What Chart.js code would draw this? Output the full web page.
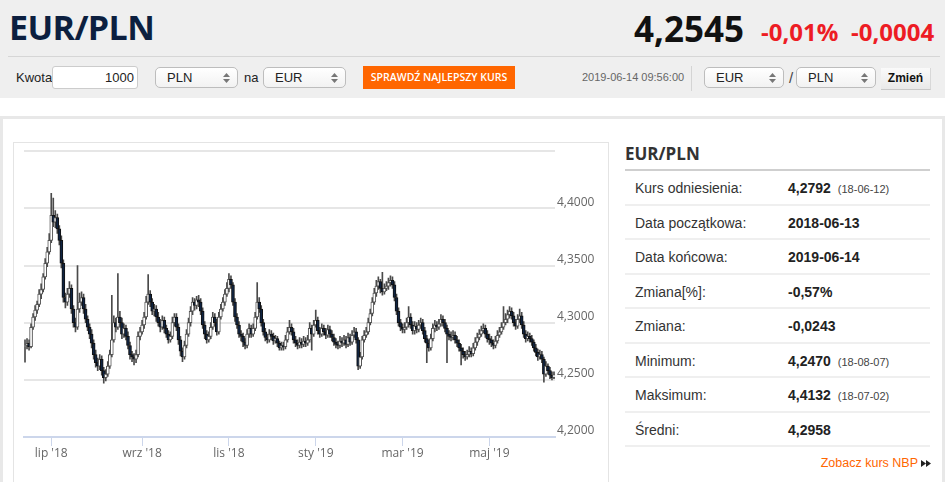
<!DOCTYPE html>
<html lang="pl"><head><meta charset="utf-8">
<script src="https://cdn.jsdelivr.net/npm/chart.js@4.4.1/dist/chart.umd.min.js"></script>
<style>
*{box-sizing:border-box;margin:0;padding:0}
html,body{width:945px;height:482px;overflow:hidden;background:#fff;font-family:"Liberation Sans",Arial,sans-serif;color:#333}
.a{position:absolute;white-space:nowrap}
.sel{position:absolute;height:21px;border:1px solid #bdbdbd;border-radius:5px;background:linear-gradient(#fff,#f2f2f2);font-size:13px;line-height:19px;padding-left:11px;color:#222}
.sel svg{position:absolute;right:7px;top:5px}
.row{position:absolute;left:625px;width:305px;height:34.5px;border-bottom:2px solid #efefef;font-size:14px}
.row .k{position:absolute;left:10px;top:9px;color:#333}
.row .v{position:absolute;left:163px;top:9px;font-weight:bold;color:#222}
.row .d{font-weight:normal;font-size:11px;color:#444;margin-left:7px}
</style></head><body>
<div class="a" style="left:0;top:0;width:945px;height:98px;background:#efefef"></div>
<div class="a" style="left:8px;top:56px;width:932px;height:1px;background:#d6d6d6"></div>
<div class="a" style="left:9px;top:10px;font:700 34px/1 'Open Sans';color:#0c1f3f;letter-spacing:-0.6px">EUR/PLN</div>
<div class="a" style="left:634px;top:11px;font:700 35px/1 'Open Sans';color:#111">4,2545</div>
<div class="a" style="left:761px;top:20px;font:700 24px/1 'Open Sans';color:#ed1c24">-0,01%</div>
<div class="a" style="left:851px;top:20px;font:700 24px/1 'Open Sans';color:#ed1c24">-0,0004</div>

<div class="a" style="left:16px;top:70px;font-size:13px;color:#222">Kwota</div>
<div class="a" style="left:52px;top:66px;width:86px;height:23px;background:#fff;border:1px solid #ccc;border-radius:3px;font-size:13px;line-height:21px;text-align:right;padding-right:3px;color:#222">1000</div>
<div class="sel" style="left:155px;top:67px;width:83px">PLN<svg width="7" height="10"><path d="M0 4L3.5 0L7 4Z M0 6L3.5 10L7 6Z" fill="#777"/></svg></div>
<div class="a" style="left:244px;top:70px;font-size:13px;color:#222">na</div>
<div class="sel" style="left:263px;top:67px;width:83px">EUR<svg width="7" height="10"><path d="M0 4L3.5 0L7 4Z M0 6L3.5 10L7 6Z" fill="#777"/></svg></div>
<div class="a" style="left:363px;top:66px;width:152px;height:23px;background:#ff6600;color:#fff;font:600 10.5px/23px 'Open Sans';text-align:center">SPRAWDŹ NAJLEPSZY KURS</div>

<div class="a" style="left:582px;top:71px;font-size:11px;color:#666">2019-06-14 09:56:00</div>
<div class="a" style="left:691px;top:66px;width:1px;height:25px;background:#d4d4d4"></div>
<div class="sel" style="left:704px;top:67px;width:80px">EUR<svg width="7" height="10"><path d="M0 4L3.5 0L7 4Z M0 6L3.5 10L7 6Z" fill="#777"/></svg></div>
<div class="a" style="left:789px;top:69px;font-size:15px;color:#444">/</div>
<div class="sel" style="left:796px;top:67px;width:80px">PLN<svg width="7" height="10"><path d="M0 4L3.5 0L7 4Z M0 6L3.5 10L7 6Z" fill="#777"/></svg></div>
<div class="a" style="left:881px;top:68px;width:50px;height:22px;background:linear-gradient(#fafafa,#e9e9e9);border-bottom:1px solid #c8c8c8;border-right:1px solid #d8d8d8;font:bold 12px/21px 'Liberation Sans',Arial;text-align:center;color:#111">Zmień</div>

<div class="a" style="left:0;top:116px;width:945px;height:3px;background:#e8e8e8"></div>
<div class="a" style="left:0;top:116px;width:3px;height:370px;background:#e8e8e8"></div>
<div class="a" style="left:942px;top:116px;width:3px;height:370px;background:#e8e8e8"></div>
<div class="a" style="left:13px;top:142px;width:596px;height:350px;border:1px solid #e4e4e4"></div>

<div class="a" style="left:14px;top:142px;width:594px;height:333px"><canvas id="c"></canvas></div>

<div class="a" style="left:625px;top:145px;font:700 17px/1 'Open Sans';color:#333">EUR/PLN</div>
<div class="a" style="left:625px;top:169px;width:305px;height:2px;background:#cfcfcf"></div>
<div class="row" style="top:171px"><span class="k">Kurs odniesienia:</span><span class="v">4,2792<span class="d">(18-06-12)</span></span></div>
<div class="row" style="top:205.5px"><span class="k">Data początkowa:</span><span class="v">2018-06-13</span></div>
<div class="row" style="top:240px"><span class="k">Data końcowa:</span><span class="v">2019-06-14</span></div>
<div class="row" style="top:274.5px"><span class="k">Zmiana[%]:</span><span class="v">-0,57%</span></div>
<div class="row" style="top:309px"><span class="k">Zmiana:</span><span class="v">-0,0243</span></div>
<div class="row" style="top:343.5px"><span class="k">Minimum:</span><span class="v">4,2470<span class="d">(18-08-07)</span></span></div>
<div class="row" style="top:378px"><span class="k">Maksimum:</span><span class="v">4,4132<span class="d">(18-07-02)</span></span></div>
<div class="row" style="top:412.5px"><span class="k">Średni:</span><span class="v">4,2958</span></div>
<div class="a" style="right:27px;top:456px;font-size:12.5px;color:#ff6600">Zobacz kurs NBP</div>
<svg class="a" style="left:921px;top:460px" width="10" height="7"><path d="M0 0L5 3.5L0 7Z M5 0L10 3.5L5 7Z" fill="#222"/></svg>

<script>
const START_DATE = '2018-06-13';
const END_DATE = '2019-06-14';
const MONTH_TICKS = {'2018-07':"lip '18",'2018-09':"wrz '18",'2018-11':"lis '18",'2019-01':"sty '19",'2019-03':"mar '19",'2019-05':"maj '19"};
const Y_MIN = 4.20, Y_MAX = 4.45, Y_STEP = 0.05;

const OPEN = [
4.2792,4.2800,4.2820,4.2790,4.2960,4.3050,4.3110,4.3160,4.3250,4.3290,
4.3400,4.3520,4.3620,4.3720,4.3940,4.3880,4.3920,4.3820,4.3720,4.3520,
4.3220,4.3180,4.3250,4.3300,4.3120,4.3000,4.2960,4.3120,4.3180,4.3220,
4.3120,4.3030,4.2960,4.2900,4.2820,4.2720,4.2650,4.2620,4.2680,4.2580,
4.2520,4.2550,4.2620,4.2720,4.2850,4.3000,4.2960,4.3050,4.3000,4.2900,
4.2950,4.2880,4.2800,4.2720,4.2700,4.2680,4.2720,4.2880,4.2920,4.2980,
4.3050,4.3180,4.3250,4.3180,4.3100,4.3120,4.3050,4.3000,4.2960,4.3020,
4.2950,4.2900,4.2850,4.2880,4.3000,4.3050,4.2960,4.2850,4.2750,4.2700,
4.2800,4.2900,4.3000,4.3100,4.3180,4.3150,4.3200,4.3180,4.3100,4.2980,
4.2900,4.2850,4.2880,4.2960,4.3050,4.3000,4.2920,4.3050,4.3120,4.3180,
4.3250,4.3300,4.3380,4.3330,4.3180,4.3050,4.2980,4.2900,4.2880,4.2830,
4.2800,4.2900,4.2950,4.2900,4.2950,4.3050,4.3180,4.3120,4.3000,4.2920,
4.2870,4.2850,4.2900,4.2880,4.2840,4.2860,4.2820,4.2780,4.2800,4.2790,
4.2850,4.2920,4.2960,4.2920,4.2850,4.2820,4.2800,4.2830,4.2810,4.2840,
4.2820,4.2850,4.2950,4.2900,4.2980,4.3020,4.2930,4.2900,4.2950,4.2920,
4.2890,4.2940,4.2900,4.2870,4.2830,4.2810,4.2800,4.2840,4.2820,4.2850,
4.2810,4.2870,4.2830,4.2890,4.2920,4.2850,4.2620,4.2700,4.2850,4.2890,
4.2920,4.3000,4.3080,4.3180,4.3260,4.3320,4.3360,4.3300,4.3270,4.3300,
4.3320,4.3350,4.3370,4.3330,4.3220,4.3100,4.3000,4.2960,4.2940,4.2960,
4.3000,4.3050,4.2980,4.2930,4.2970,4.2940,4.2980,4.3000,4.2930,4.2860,
4.2820,4.2780,4.2860,4.2950,4.2980,4.2960,4.2990,4.3030,4.3000,4.2950,
4.2900,4.2880,4.2870,4.2890,4.2850,4.2820,4.2780,4.2750,4.2720,4.2700,
4.2720,4.2750,4.2730,4.2780,4.2830,4.2870,4.2900,4.2930,4.2950,4.2900,
4.2860,4.2850,4.2820,4.2800,4.2840,4.2890,4.2920,4.2960,4.3000,4.3030,
4.3070,4.3100,4.3060,4.3000,4.2970,4.3030,4.3060,4.2980,4.2900,4.2860,
4.2880,4.2860,4.2830,4.2780,4.2740,4.2700,4.2720,4.2680,4.2550,4.2620,
4.2580,4.2540,4.2520];

const HIGH = [
4.2850,4.2860,4.2850,4.2990,4.3080,4.3150,4.3190,4.3290,4.3340,4.3430,
4.3560,4.3660,4.3780,4.4132,4.4090,4.3980,4.3950,4.3850,4.3760,4.3550,
4.3260,4.3300,4.3360,4.3330,4.3150,4.3040,4.3500,4.3260,4.3270,4.3250,
4.3160,4.3060,4.2990,4.2940,4.2850,4.2760,4.2690,4.2720,4.2710,4.2610,
4.2590,4.2660,4.2760,4.3240,4.3060,4.3040,4.3430,4.3100,4.3040,4.2990,
4.2980,4.2920,4.2830,4.2750,4.2730,4.2760,4.2920,4.2960,4.3020,4.3090,
4.3230,4.3420,4.3280,4.3210,4.3160,4.3150,4.3090,4.3030,4.3060,4.3050,
4.2980,4.2930,4.2920,4.3050,4.3080,4.3080,4.2990,4.2880,4.2780,4.2840,
4.2940,4.3040,4.3140,4.3220,4.3210,4.3230,4.3240,4.3210,4.3130,4.3010,
4.2930,4.2920,4.3000,4.3090,4.3080,4.3030,4.3090,4.3160,4.3220,4.3290,
4.3350,4.3430,4.3410,4.3350,4.3210,4.3080,4.3010,4.2930,4.2910,4.2860,
4.2940,4.2990,4.2980,4.2990,4.3090,4.3350,4.3220,4.3150,4.3030,4.2950,
4.2900,4.2940,4.2930,4.2910,4.2890,4.2880,4.2840,4.2830,4.2830,4.2890,
4.2960,4.3020,4.2990,4.2950,4.2880,4.2850,4.2870,4.2860,4.2880,4.2870,
4.2890,4.3000,4.2980,4.3020,4.3110,4.3050,4.2960,4.2990,4.2980,4.2950,
4.2980,4.2970,4.2930,4.2900,4.2860,4.2840,4.2880,4.2870,4.2890,4.2880,
4.2910,4.2900,4.2930,4.2960,4.2950,4.2870,4.2740,4.2880,4.2930,4.2960,
4.3040,4.3120,4.3220,4.3300,4.3370,4.3400,4.3380,4.3440,4.3340,4.3360,
4.3390,4.3410,4.3400,4.3360,4.3250,4.3130,4.3030,4.2990,4.3000,4.3040,
4.3140,4.3080,4.3010,4.3010,4.3000,4.3020,4.3040,4.3030,4.2960,4.2890,
4.2850,4.2900,4.2990,4.3020,4.3010,4.3030,4.3070,4.3060,4.3030,4.2980,
4.2930,4.2920,4.2930,4.2920,4.2880,4.2850,4.2810,4.2780,4.2750,4.2760,
4.2790,4.2780,4.2820,4.2870,4.2910,4.2940,4.2970,4.2990,4.2980,4.2930,
4.2900,4.2880,4.2850,4.2880,4.2930,4.2960,4.3000,4.3140,4.3080,4.3110,
4.3140,4.3130,4.3090,4.3030,4.3070,4.3120,4.3090,4.3010,4.2930,4.2920,
4.2910,4.2890,4.2850,4.2810,4.2770,4.2760,4.2750,4.2700,4.2660,4.2640,
4.2610,4.2570,4.2570];

const LOW = [
4.2655,4.2770,4.2760,4.2780,4.2940,4.3020,4.3080,4.3140,4.3210,4.3270,
4.3380,4.3490,4.3600,4.3700,4.3840,4.3830,4.3780,4.3680,4.3480,4.3180,
4.3130,4.3150,4.3220,4.3080,4.2960,4.2920,4.2940,4.3090,4.3150,4.3080,
4.3000,4.2930,4.2860,4.2780,4.2680,4.2610,4.2580,4.2590,4.2540,4.2470,
4.2490,4.2530,4.2600,4.2700,4.2830,4.2920,4.2940,4.2960,4.2860,4.2870,
4.2850,4.2770,4.2680,4.2660,4.2630,4.2650,4.2700,4.2850,4.2900,4.2950,
4.3030,4.3160,4.3140,4.3070,4.3060,4.3010,4.2970,4.2920,4.2940,4.2910,
4.2870,4.2820,4.2830,4.2860,4.2970,4.2930,4.2810,4.2710,4.2660,4.2680,
4.2780,4.2880,4.2970,4.3070,4.3110,4.3120,4.3140,4.3070,4.2950,4.2860,
4.2820,4.2830,4.2860,4.2940,4.2970,4.2890,4.2900,4.3030,4.3100,4.3150,
4.3230,4.3270,4.3300,4.3150,4.3010,4.2950,4.2870,4.2840,4.2790,4.2770,
4.2780,4.2870,4.2870,4.2880,4.2930,4.3030,4.3090,4.2970,4.2890,4.2840,
4.2820,4.2830,4.2850,4.2810,4.2820,4.2790,4.2760,4.2760,4.2760,4.2770,
4.2830,4.2900,4.2890,4.2820,4.2790,4.2770,4.2780,4.2780,4.2790,4.2790,
4.2800,4.2830,4.2760,4.2880,4.2960,4.2900,4.2870,4.2880,4.2890,4.2860,
4.2870,4.2870,4.2840,4.2800,4.2780,4.2770,4.2780,4.2790,4.2800,4.2780,
4.2790,4.2800,4.2810,4.2870,4.2820,4.2590,4.2600,4.2680,4.2830,4.2870,
4.2900,4.2980,4.3060,4.3160,4.3230,4.3290,4.3260,4.3240,4.3250,4.3280,
4.3290,4.3320,4.3300,4.3190,4.3070,4.2970,4.2930,4.2910,4.2910,4.2940,
4.2960,4.2950,4.2900,4.2900,4.2910,4.2920,4.2950,4.2900,4.2830,4.2650,
4.2750,4.2760,4.2840,4.2920,4.2930,4.2940,4.2970,4.2970,4.2920,4.2650,
4.2850,4.2840,4.2850,4.2820,4.2790,4.2750,4.2630,4.2690,4.2670,4.2680,
4.2700,4.2700,4.2710,4.2760,4.2800,4.2850,4.2880,4.2910,4.2870,4.2830,
4.2810,4.2790,4.2770,4.2780,4.2820,4.2870,4.2900,4.2940,4.2980,4.3000,
4.3040,4.3030,4.2970,4.2940,4.2950,4.3000,4.2950,4.2870,4.2830,4.2840,
4.2830,4.2800,4.2750,4.2710,4.2670,4.2680,4.2650,4.2480,4.2530,4.2550,
4.2510,4.2500,4.2510];

const CLOSE = [
4.2800,4.2820,4.2790,4.2960,4.3050,4.3110,4.3160,4.3250,4.3290,4.3400,
4.3520,4.3620,4.3720,4.3940,4.3880,4.3920,4.3820,4.3720,4.3520,4.3220,
4.3180,4.3250,4.3300,4.3120,4.3000,4.2960,4.3120,4.3180,4.3220,4.3120,
4.3030,4.2960,4.2900,4.2820,4.2720,4.2650,4.2620,4.2680,4.2580,4.2520,
4.2550,4.2620,4.2720,4.2850,4.3000,4.2960,4.3050,4.3000,4.2900,4.2950,
4.2880,4.2800,4.2720,4.2700,4.2680,4.2720,4.2880,4.2920,4.2980,4.3050,
4.3180,4.3250,4.3180,4.3100,4.3120,4.3050,4.3000,4.2960,4.3020,4.2950,
4.2900,4.2850,4.2880,4.3000,4.3050,4.2960,4.2850,4.2750,4.2700,4.2800,
4.2900,4.3000,4.3100,4.3180,4.3150,4.3200,4.3180,4.3100,4.2980,4.2900,
4.2850,4.2880,4.2960,4.3050,4.3000,4.2920,4.3050,4.3120,4.3180,4.3250,
4.3300,4.3380,4.3330,4.3180,4.3050,4.2980,4.2900,4.2880,4.2830,4.2800,
4.2900,4.2950,4.2900,4.2950,4.3050,4.3180,4.3120,4.3000,4.2920,4.2870,
4.2850,4.2900,4.2880,4.2840,4.2860,4.2820,4.2780,4.2800,4.2790,4.2850,
4.2920,4.2960,4.2920,4.2850,4.2820,4.2800,4.2830,4.2810,4.2840,4.2820,
4.2850,4.2950,4.2900,4.2980,4.3020,4.2930,4.2900,4.2950,4.2920,4.2890,
4.2940,4.2900,4.2870,4.2830,4.2810,4.2800,4.2840,4.2820,4.2850,4.2810,
4.2870,4.2830,4.2890,4.2920,4.2850,4.2620,4.2700,4.2850,4.2890,4.2920,
4.3000,4.3080,4.3180,4.3260,4.3320,4.3360,4.3300,4.3270,4.3300,4.3320,
4.3350,4.3370,4.3330,4.3220,4.3100,4.3000,4.2960,4.2940,4.2960,4.3000,
4.3050,4.2980,4.2930,4.2970,4.2940,4.2980,4.3000,4.2930,4.2860,4.2820,
4.2780,4.2860,4.2950,4.2980,4.2960,4.2990,4.3030,4.3000,4.2950,4.2900,
4.2880,4.2870,4.2890,4.2850,4.2820,4.2780,4.2750,4.2720,4.2700,4.2720,
4.2750,4.2730,4.2780,4.2830,4.2870,4.2900,4.2930,4.2950,4.2900,4.2860,
4.2850,4.2820,4.2800,4.2840,4.2890,4.2920,4.2960,4.3000,4.3030,4.3070,
4.3100,4.3060,4.3000,4.2970,4.3030,4.3060,4.2980,4.2900,4.2860,4.2880,
4.2860,4.2830,4.2780,4.2740,4.2700,4.2720,4.2680,4.2550,4.2620,4.2580,
4.2540,4.2520,4.2545];

function tradingDays(s, e) {
  const out = [];
  const d = new Date(s + 'T12:00:00Z'), end = new Date(e + 'T12:00:00Z');
  while (d <= end) {
    const w = d.getUTCDay();
    if (w !== 0 && w !== 6) out.push(d.toISOString().slice(0, 10));
    d.setUTCDate(d.getUTCDate() + 1);
  }
  return out;
}
const DATES = tradingDays(START_DATE, END_DATE);

function monthTick(i) {
  const d = DATES[i];
  if (!d) return null;
  const m = d.slice(0, 7);
  const prev = DATES[i - 1];
  if ((!prev || prev.slice(0, 7) !== m) && MONTH_TICKS[m]) return MONTH_TICKS[m];
  return null;
}

const UP_FILL = '#ffffff', DOWN_FILL = '#0f2341';

new Chart(document.getElementById('c'), {
  type: 'bar',
  data: {
    labels: DATES,
    datasets: [
      {
        label: 'wick',
        data: LOW.map((l, i) => [l, HIGH[i]]),
        backgroundColor: '#4a4a4a',
        barThickness: 1,
        grouped: false,
        order: 2
      },
      {
        label: 'body',
        data: OPEN.map((o, i) => [Math.min(o, CLOSE[i]), Math.max(o, CLOSE[i])]),
        backgroundColor: CLOSE.map((c, i) => c >= OPEN[i] ? UP_FILL : DOWN_FILL),
        borderColor: CLOSE.map((c, i) => c >= OPEN[i] ? '#555555' : '#111111'),
        borderWidth: 1,
        borderSkipped: false,
        barThickness: 3,
        grouped: false,
        order: 1
      }
    ]
  },
  options: {
    responsive: true,
    maintainAspectRatio: false,
    animation: false,
    events: [],
    layout: { padding: { left: 10, top: 9, right: 0, bottom: 0 } },
    plugins: { legend: { display: false }, tooltip: { enabled: false } },
    scales: {
      x: {
        type: 'category',
        offset: true,
        afterFit: s => { s.height = 38; },
        border: { color: '#ccd6eb', width: 2 },
        grid: {
          offset: false,
          drawOnChartArea: false,
          drawTicks: true,
          tickLength: 9,
          color: ctx => (ctx.tick && ctx.tick.label) ? '#ccd6eb' : 'rgba(0,0,0,0)',
          lineWidth: 1
        },
        ticks: {
          autoSkip: false,
          maxRotation: 0,
          minRotation: 0,
          padding: 0,
          color: '#666',
          font: { family: 'Open Sans', size: 12 },
          callback: (v, i) => monthTick(i)
        }
      },
      y: {
        position: 'right',
        min: Y_MIN,
        max: Y_MAX,
        afterFit: s => { s.width = 53; },
        border: { display: false },
        grid: {
          drawTicks: false,
          lineWidth: 2,
          color: ctx => (ctx.tick && Math.abs(ctx.tick.value - Y_MIN) < 1e-9) ? 'rgba(0,0,0,0)' : '#e6e6e6'
        },
        ticks: {
          stepSize: Y_STEP,
          padding: 2,
          labelOffset: -6,
          color: '#666',
          font: { family: 'Open Sans', size: 12 },
          callback: v => Math.abs(v - Y_MAX) < 1e-9 ? '' : Number(v).toFixed(4).replace('.', ',')
        }
      }
    }
  }
});
</script>
</body></html>
